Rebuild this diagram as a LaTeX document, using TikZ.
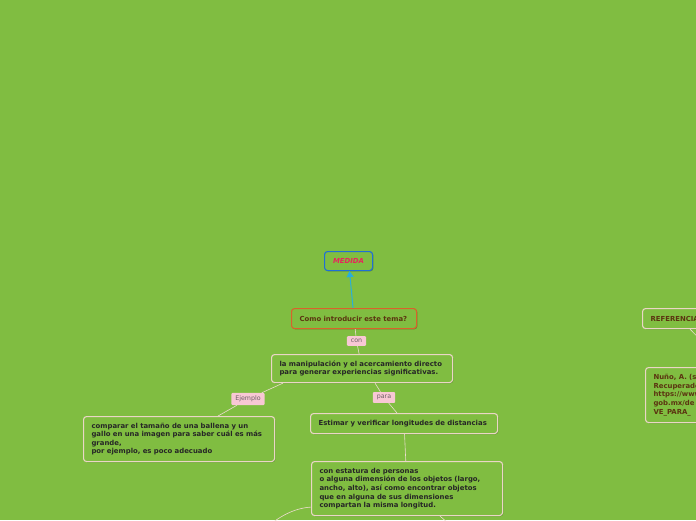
\documentclass[tikz,border=0pt]{standalone}
\usepackage{fontspec}
\setmainfont{DejaVu Sans}
\usetikzlibrary{arrows.meta,shadows}

\definecolor{achtergrond}{HTML}{80BD41}
\definecolor{rand}{HTML}{EAD6C6}
\definecolor{roze}{HTML}{F8C8D4}
\definecolor{blauwrand}{HTML}{1F6FD6}
\definecolor{oranjerand}{HTML}{D8632B}
\definecolor{cyaan}{HTML}{2AAFD8}
\definecolor{rood}{HTML}{E8245C}
\definecolor{bruin}{HTML}{5B3410}
\definecolor{grijstekst}{HTML}{6E5E66}

\tikzset{
  tak/.style={draw=rand, fill=achtergrond, line width=1.1pt, rounded corners=3pt,
    anchor=north west, align=left, inner xsep=8pt, inner ysep=0pt,
    font=\fontsize{6.9}{8.6}\selectfont\bfseries, text=black!85,
    drop shadow={shadow xshift=0.8pt, shadow yshift=-0.8pt, opacity=0.25, fill=black}},
  etiket/.style={fill=roze, rounded corners=1pt, inner xsep=4pt, inner ysep=3pt,
    font=\fontsize{6.3}{7}\selectfont, text=grijstekst},
  verbinding/.style={draw=rand!85, line width=0.6pt},
}

\begin{document}
\begin{tikzpicture}[x=1pt, y=-1pt]
    % Achtergrond en afsnijden
    \clip (0,0) rectangle (696,520);
    \fill[achtergrond] (0,0) rectangle (696,520);

    % Hoofdonderwerp
    \node[tak, draw=blauwrand, align=center, text width=32pt, minimum height=19pt,
      text=rood, font=\fontsize{6.9}{8.6}\selectfont\bfseries\itshape] (medida) at (324,251) {MEDIDA};

    % Takken
    \node[tak, draw=oranjerand, text=bruin, text width=109pt, minimum height=20pt] (como) at (291,308)
      {Como introducir este tema?};
    \node[tak, text width=165pt, minimum height=28pt] (manip) at (271,354)
      {la manipulación y el acercamiento directo\\para generar experiencias significativas.};
    \node[tak, text width=175pt, minimum height=45pt] (comparar) at (83,416)
      {comparar el tamaño de una ballena y un\\gallo en una imagen para saber cuál es más\\grande,\\por ejemplo, es poco adecuado};
    \node[tak, text width=171pt, minimum height=20pt] (estimar) at (310,413)
      {Estimar y verificar longitudes de distancias};
    \node[tak, text width=175pt, minimum height=54pt] (estatura) at (311,461)
      {con estatura de personas\\o alguna dimensión de los objetos (largo,\\ancho, alto), así como encontrar objetos\\que en alguna de sus dimensiones\\compartan la misma longitud.};

    % Referenties (rechts, half buiten beeld)
    \node[tak, text=bruin, text width=90pt, minimum height=20pt] (referencias) at (642,308)
      {REFERENCIAS};
    \node[tak, text=bruin, text width=110pt, minimum height=55pt] (nuno) at (645,367)
      {Nuño, A. (s.f.)\\Recuperado de\\https://www.\\gob.mx/de\\VE\_PARA\_};

    % Verbindingswoorden
    \node[etiket] (con) at (356.5,341) {con};
    \node[etiket] (ejemplo) at (248,399) {Ejemplo};
    \node[etiket] (para) at (384,397.5) {para};

    % Pijl naar het hoofdonderwerp
    \draw[cyaan, line width=1pt, -{Triangle[width=7pt,length=6pt]}] (como) -- (medida);

    % Verbindingen
    \draw[verbinding] (como) -- (con) -- (manip);
    \draw[verbinding] ([xshift=12pt]manip.south west) -- (ejemplo) -- ([xshift=135pt]comparar.north west);
    \draw[verbinding] ([xshift=104pt]manip.south west) -- (para) -- ([xshift=87pt]estimar.north west);
    \draw[verbinding] (estimar) -- (estatura);

    % Losse uiteinden buiten beeld
    \coordinate (uitlinks) at (262,532);
    \coordinate (uitrechts) at (456,530);
    \coordinate (refdoel) at (720,360);
    \draw[verbinding] ([yshift=9pt]estatura.south west) .. controls (295,508) and (278,516) .. (uitlinks);
    \draw[verbinding] ([xshift=129pt]estatura.south west) -- (uitrechts);
    \draw[verbinding] ([xshift=48pt]referencias.south west) -- (refdoel);
\end{tikzpicture}
\end{document}
